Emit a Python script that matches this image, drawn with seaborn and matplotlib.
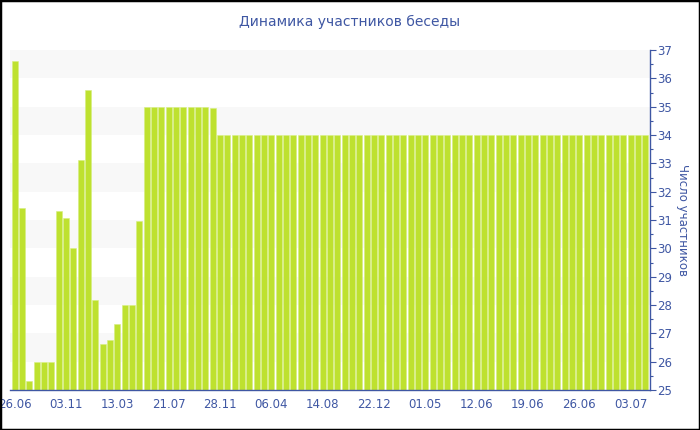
import pandas as pd
import matplotlib
matplotlib.use('Agg')
import matplotlib.pyplot as plt
import seaborn as sns
from matplotlib.patches import Rectangle
from matplotlib.ticker import MultipleLocator

# Данные: число участников по дням
members = [36.62, 31.41, 25.33, 26.0, 26.0, 26.0, 31.33, 31.06, 30.0, 33.12,
           35.58, 28.16, 26.63, 26.78, 27.32, 28.0, 28.0, 30.95, 35.0, 35.0,
           35.0, 35.0, 35.0, 35.0, 35.0, 35.0, 35.0, 34.94, 34.0, 34.0,
           34.0, 34.0, 34.0, 34.0, 34.0, 34.0, 34.0, 34.0, 34.0, 34.0,
           34.0, 34.0, 34.0, 34.0, 34.0, 34.0, 34.0, 34.0, 34.0, 34.0,
           34.0, 34.0, 34.0, 34.0, 34.0, 34.0, 34.0, 34.0, 34.0, 34.0,
           34.0, 34.0, 34.0, 34.0, 34.0, 34.0, 34.0, 34.0, 34.0, 34.0,
           34.0, 34.0, 34.0, 34.0, 34.0, 34.0, 34.0, 34.0, 34.0, 34.0,
           34.0, 34.0, 34.0, 34.0, 34.0, 34.0, 34.0]
days = list(range(len(members)))

# подписи оси X (каждый 7-й день)
tick_labels = ['26.06', '03.11', '13.03', '21.07', '28.11', '06.04', '14.08',
               '22.12', '01.05', '12.06', '19.06', '26.06', '03.07']
tick_step = 7

blue = '#3f57a3'
green = '#bee12f'

df = pd.DataFrame({'day': days, 'members': members})

sns.set_style('white')
plt.rcParams['font.family'] = ['DejaVu Sans']

fig = plt.figure(figsize=(7, 4.3), dpi=100)
ax = fig.add_axes([10 / 700, 40 / 430, 640 / 700, 340 / 430])

# чередующиеся полосы фона
for lo in range(26, 37, 2):
    ax.axhspan(lo, lo + 1, color='#f8f8f8', zorder=0, lw=0)

sns.barplot(data=df, x='day', y='members', color=green, width=0.84,
            saturation=1, errorbar=None, ax=ax, zorder=2,
            edgecolor='#d6ee80', linewidth=0.4)

ax.set_ylim(25, 37)
ax.set_xlim(-0.64, len(members) - 1 + 0.64)
ax.set_facecolor('white')

ax.set_xticks(days[::tick_step])
ax.set_xticklabels(tick_labels)
ax.set_xlabel('')

ax.yaxis.tick_right()
ax.yaxis.set_label_position('right')
ax.yaxis.set_major_locator(MultipleLocator(1))
ax.yaxis.set_minor_locator(MultipleLocator(0.5))
ax.set_ylabel('Число участников', rotation=-90, color=blue, fontsize=8.5,
              labelpad=12)

ax.tick_params(axis='both', which='both', colors=blue, labelcolor=blue,
               labelsize=8.5, direction='out', width=0.8)
ax.tick_params(axis='y', which='major', length=4, pad=1)
ax.tick_params(axis='y', which='minor', length=2)
ax.tick_params(axis='x', which='major', length=4, pad=2)

for side in ['top', 'left']:
    ax.spines[side].set_visible(False)
for side in ['right', 'bottom']:
    ax.spines[side].set_color(blue)
    ax.spines[side].set_linewidth(1)

fig.text(0.5, 1 - 22 / 430, 'Динамика участников беседы', ha='center',
         va='center', color=blue, fontsize=10)

# рамка вокруг картинки
fig.patches.append(Rectangle((0, 0), 1, 1, transform=fig.transFigure,
                             fill=False, edgecolor='black', linewidth=2.5))

fig.savefig('out.png', dpi=100)
